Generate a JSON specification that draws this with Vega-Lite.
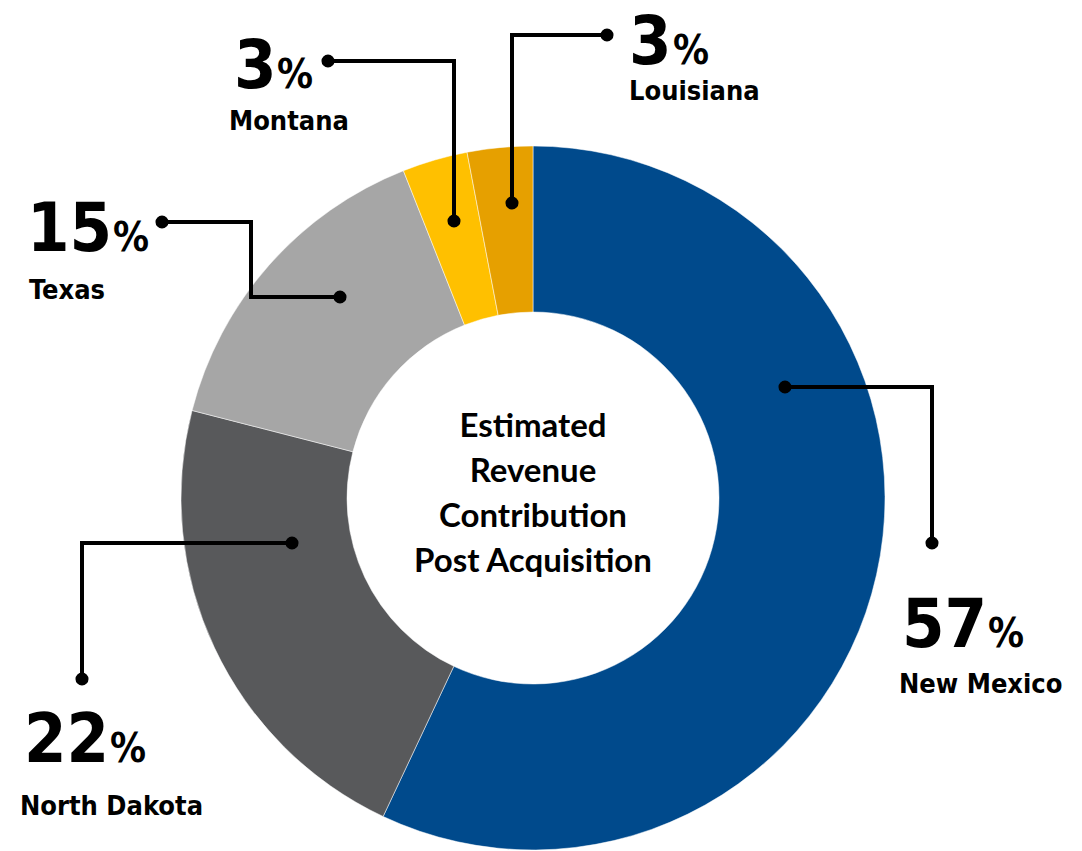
{
  "$schema": "https://vega.github.io/schema/vega-lite/v6.json",
  "width": 1082,
  "height": 851,
  "autosize": {"type": "fit", "contains": "padding"},
  "padding": 0,
  "background": "#ffffff",
  "config": {"view": {"stroke": null}},
  "datasets": {
    "slices": [
      {"state": "New Mexico", "rank": 1, "share": 57},
      {"state": "North Dakota", "rank": 2, "share": 22},
      {"state": "Texas", "rank": 3, "share": 15},
      {"state": "Montana", "rank": 4, "share": 3},
      {"state": "Louisiana", "rank": 5, "share": 3}
    ],
    "leaders": [
      {"state": "New Mexico", "seq": 1, "u": 252, "v": 111, "dot": true},
      {"state": "New Mexico", "seq": 2, "u": 399, "v": 111, "dot": false},
      {"state": "New Mexico", "seq": 3, "u": 399, "v": -45, "dot": true},
      {"state": "North Dakota", "seq": 1, "u": -241, "v": -45, "dot": true},
      {"state": "North Dakota", "seq": 2, "u": -451, "v": -45, "dot": false},
      {"state": "North Dakota", "seq": 3, "u": -451, "v": -181, "dot": true},
      {"state": "Texas", "seq": 1, "u": -193, "v": 201, "dot": true},
      {"state": "Texas", "seq": 2, "u": -282, "v": 201, "dot": false},
      {"state": "Texas", "seq": 3, "u": -282, "v": 276, "dot": false},
      {"state": "Texas", "seq": 4, "u": -371, "v": 276, "dot": true},
      {"state": "Montana", "seq": 1, "u": -79, "v": 277, "dot": true},
      {"state": "Montana", "seq": 2, "u": -79, "v": 437, "dot": false},
      {"state": "Montana", "seq": 3, "u": -205, "v": 437, "dot": true},
      {"state": "Louisiana", "seq": 1, "u": -21, "v": 295, "dot": true},
      {"state": "Louisiana", "seq": 2, "u": -21, "v": 463, "dot": false},
      {"state": "Louisiana", "seq": 3, "u": 74, "v": 463, "dot": true}
    ],
    "labels": [
      {"state": "New Mexico", "num": "57", "numX": 369, "numY": -149, "pctX": 455, "nameX": 366, "nameY": -195},
      {"state": "North Dakota", "num": "22", "numX": -509, "numY": -264, "pctX": -423, "nameX": -513, "nameY": -317},
      {"state": "Texas", "num": "15", "numX": -506, "numY": 247, "pctX": -420, "nameX": -504, "nameY": 199},
      {"state": "Montana", "num": "3", "numX": -299, "numY": 410, "pctX": -256, "nameX": -304, "nameY": 368},
      {"state": "Louisiana", "num": "3", "numX": 96, "numY": 434, "pctX": 140, "nameX": 96, "nameY": 398}
    ]
  },
  "layer": [
    {
      "data": {"name": "slices"},
      "mark": {"type": "arc", "outerRadius": 352, "innerRadius": 186, "stroke": "#ffffff", "strokeWidth": 0.5},
      "encoding": {
        "x": {"datum": 0, "type": "quantitative", "scale": {"domain": [-533, 549], "nice": false, "zero": false}, "axis": null},
        "y": {"datum": 0, "type": "quantitative", "scale": {"domain": [-353, 498], "nice": false, "zero": false}, "axis": null},
        "theta": {"field": "share", "type": "quantitative", "stack": true},
        "order": {"field": "rank", "type": "quantitative"},
        "color": {
          "field": "state",
          "type": "nominal",
          "scale": {
            "domain": ["New Mexico", "North Dakota", "Texas", "Montana", "Louisiana"],
            "range": ["#004A8C", "#58595B", "#A6A6A6", "#FFC000", "#E6A000"]
          },
          "legend": null
        }
      }
    },
    {
      "data": {"name": "leaders"},
      "mark": {"type": "line", "color": "#000000", "strokeWidth": 4, "strokeJoin": "miter", "strokeCap": "butt"},
      "encoding": {
        "x": {"field": "u", "type": "quantitative", "axis": null},
        "y": {"field": "v", "type": "quantitative", "axis": null},
        "detail": {"field": "state"},
        "order": {"field": "seq", "type": "quantitative"}
      }
    },
    {
      "data": {"name": "leaders"},
      "transform": [{"filter": "datum.dot"}],
      "mark": {"type": "point", "filled": true, "color": "#000000", "size": 170, "opacity": 1},
      "encoding": {
        "x": {"field": "u", "type": "quantitative", "axis": null},
        "y": {"field": "v", "type": "quantitative", "axis": null}
      }
    },
    {
      "data": {"name": "labels"},
      "mark": {"type": "text", "align": "left", "baseline": "alphabetic", "font": "DejaVu Sans Condensed", "fontWeight": "bold", "fontSize": 68, "color": "#000000"},
      "encoding": {
        "x": {"field": "numX", "type": "quantitative", "axis": null},
        "y": {"field": "numY", "type": "quantitative", "axis": null},
        "text": {"field": "num"}
      }
    },
    {
      "data": {"name": "labels"},
      "mark": {"type": "text", "align": "left", "baseline": "alphabetic", "font": "DejaVu Sans Condensed", "fontWeight": "bold", "fontSize": 40, "color": "#000000", "text": "%"},
      "encoding": {
        "x": {"field": "pctX", "type": "quantitative", "axis": null},
        "y": {"field": "numY", "type": "quantitative", "axis": null}
      }
    },
    {
      "data": {"name": "labels"},
      "mark": {"type": "text", "align": "left", "baseline": "alphabetic", "font": "DejaVu Sans Condensed", "fontWeight": "bold", "fontSize": 27, "color": "#000000"},
      "encoding": {
        "x": {"field": "nameX", "type": "quantitative", "axis": null},
        "y": {"field": "nameY", "type": "quantitative", "axis": null},
        "text": {"field": "state"}
      }
    },
    {
      "data": {"values": [{"title": "Estimated Revenue Contribution Post Acquisition"}]},
      "mark": {
        "type": "text",
        "align": "center",
        "baseline": "alphabetic",
        "font": "Lato",
        "fontWeight": "bold",
        "fontSize": 33,
        "lineHeight": 45,
        "color": "#000000",
        "text": ["Estimated", "Revenue", "Contribution", "Post Acquisition"]
      },
      "encoding": {
        "x": {"datum": 0, "type": "quantitative", "axis": null},
        "y": {"datum": 61, "type": "quantitative", "axis": null}
      }
    }
  ]
}
